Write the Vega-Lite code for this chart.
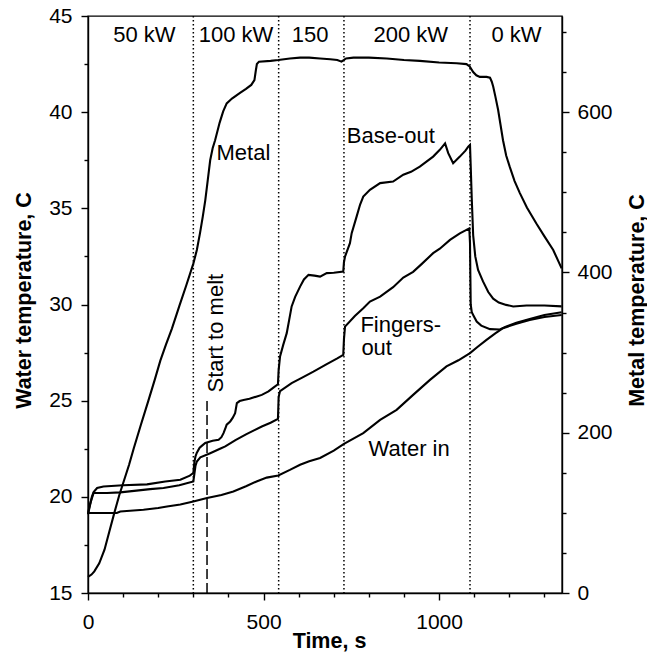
{
  "$schema": "https://vega.github.io/schema/vega-lite/v6.json",
  "width": 474,
  "height": 577,
  "autosize": {"type": "none"},
  "padding": {"left": 88, "top": 16, "right": 85, "bottom": 64},
  "background": "white",
  "config": {
    "font": "Liberation Sans",
    "view": {"stroke": "black", "strokeWidth": 1.4},
    "axis": {
      "grid": false,
      "domainColor": "black",
      "domainWidth": 1.4,
      "tickColor": "black",
      "tickWidth": 1.4,
      "labelColor": "black",
      "labelFont": "Liberation Sans",
      "labelFontSize": 21,
      "labelFlush": false,
      "labelOverlap": false,
      "titleFont": "Liberation Sans",
      "titleFontSize": 21.5,
      "titleFontWeight": "bold",
      "titleColor": "black"
    }
  },
  "datasets": {
    "water": [
      {"s": "Base-out", "t": 0, "w": 19.1}, {"s": "Base-out", "t": 5, "w": 19.5}, {"s": "Base-out", "t": 11, "w": 20.0}, {"s": "Base-out", "t": 16, "w": 20.25}, {"s": "Base-out", "t": 26, "w": 20.46}, {"s": "Base-out", "t": 44, "w": 20.54}, {"s": "Base-out", "t": 100, "w": 20.6}, {"s": "Base-out", "t": 168, "w": 20.65}, {"s": "Base-out", "t": 220, "w": 20.8}, {"s": "Base-out", "t": 263, "w": 20.89}, {"s": "Base-out", "t": 290, "w": 21.1}, {"s": "Base-out", "t": 300, "w": 21.24}, {"s": "Base-out", "t": 303, "w": 21.8}, {"s": "Base-out", "t": 306, "w": 22.1}, {"s": "Base-out", "t": 310, "w": 22.3}, {"s": "Base-out", "t": 318, "w": 22.55}, {"s": "Base-out", "t": 324, "w": 22.65}, {"s": "Base-out", "t": 334, "w": 22.8}, {"s": "Base-out", "t": 355, "w": 22.92}, {"s": "Base-out", "t": 372, "w": 22.97}, {"s": "Base-out", "t": 380, "w": 23.1}, {"s": "Base-out", "t": 386, "w": 23.31}, {"s": "Base-out", "t": 392, "w": 23.6}, {"s": "Base-out", "t": 395, "w": 23.75}, {"s": "Base-out", "t": 405, "w": 23.92}, {"s": "Base-out", "t": 412, "w": 24.1}, {"s": "Base-out", "t": 419, "w": 24.35}, {"s": "Base-out", "t": 424, "w": 24.87}, {"s": "Base-out", "t": 432, "w": 24.98}, {"s": "Base-out", "t": 443, "w": 25.04}, {"s": "Base-out", "t": 460, "w": 25.1}, {"s": "Base-out", "t": 481, "w": 25.22}, {"s": "Base-out", "t": 495, "w": 25.3}, {"s": "Base-out", "t": 514, "w": 25.48}, {"s": "Base-out", "t": 530, "w": 25.7}, {"s": "Base-out", "t": 541, "w": 25.85}, {"s": "Base-out", "t": 543, "w": 26.6}, {"s": "Base-out", "t": 547, "w": 27.3}, {"s": "Base-out", "t": 556, "w": 27.9}, {"s": "Base-out", "t": 566, "w": 28.51}, {"s": "Base-out", "t": 573, "w": 29.2}, {"s": "Base-out", "t": 580, "w": 29.9}, {"s": "Base-out", "t": 590, "w": 30.4}, {"s": "Base-out", "t": 604, "w": 30.93}, {"s": "Base-out", "t": 615, "w": 31.3}, {"s": "Base-out", "t": 628, "w": 31.54}, {"s": "Base-out", "t": 645, "w": 31.5}, {"s": "Base-out", "t": 661, "w": 31.45}, {"s": "Base-out", "t": 680, "w": 31.63}, {"s": "Base-out", "t": 700, "w": 31.65}, {"s": "Base-out", "t": 727, "w": 31.71}, {"s": "Base-out", "t": 729, "w": 32.2}, {"s": "Base-out", "t": 732, "w": 32.49}, {"s": "Base-out", "t": 746, "w": 33.19}, {"s": "Base-out", "t": 751, "w": 33.71}, {"s": "Base-out", "t": 765, "w": 34.57}, {"s": "Base-out", "t": 775, "w": 35.2}, {"s": "Base-out", "t": 784, "w": 35.61}, {"s": "Base-out", "t": 803, "w": 35.96}, {"s": "Base-out", "t": 832, "w": 36.31}, {"s": "Base-out", "t": 869, "w": 36.39}, {"s": "Base-out", "t": 898, "w": 36.75}, {"s": "Base-out", "t": 920, "w": 36.9}, {"s": "Base-out", "t": 945, "w": 37.17}, {"s": "Base-out", "t": 983, "w": 37.69}, {"s": "Base-out", "t": 1002, "w": 38.04}, {"s": "Base-out", "t": 1017, "w": 38.38}, {"s": "Base-out", "t": 1026, "w": 37.87}, {"s": "Base-out", "t": 1040, "w": 37.35}, {"s": "Base-out", "t": 1059, "w": 37.69}, {"s": "Base-out", "t": 1075, "w": 38.0}, {"s": "Base-out", "t": 1083, "w": 38.21}, {"s": "Base-out", "t": 1088, "w": 38.3}, {"s": "Base-out", "t": 1090, "w": 37.2}, {"s": "Base-out", "t": 1093, "w": 35.5}, {"s": "Base-out", "t": 1097, "w": 33.6}, {"s": "Base-out", "t": 1103, "w": 32.5}, {"s": "Base-out", "t": 1111, "w": 31.8}, {"s": "Base-out", "t": 1125, "w": 31.2}, {"s": "Base-out", "t": 1140, "w": 30.65}, {"s": "Base-out", "t": 1154, "w": 30.3}, {"s": "Base-out", "t": 1170, "w": 30.1}, {"s": "Base-out", "t": 1191, "w": 29.98}, {"s": "Base-out", "t": 1211, "w": 29.9}, {"s": "Base-out", "t": 1249, "w": 29.95}, {"s": "Base-out", "t": 1300, "w": 29.95}, {"s": "Base-out", "t": 1349, "w": 29.9},
      {"s": "Fingers-out", "t": 0, "w": 19.1}, {"s": "Fingers-out", "t": 4, "w": 19.5}, {"s": "Fingers-out", "t": 7, "w": 19.7}, {"s": "Fingers-out", "t": 16, "w": 20.2}, {"s": "Fingers-out", "t": 54, "w": 20.2}, {"s": "Fingers-out", "t": 92, "w": 20.23}, {"s": "Fingers-out", "t": 177, "w": 20.4}, {"s": "Fingers-out", "t": 215, "w": 20.46}, {"s": "Fingers-out", "t": 260, "w": 20.6}, {"s": "Fingers-out", "t": 300, "w": 20.8}, {"s": "Fingers-out", "t": 303, "w": 21.2}, {"s": "Fingers-out", "t": 306, "w": 21.6}, {"s": "Fingers-out", "t": 310, "w": 21.84}, {"s": "Fingers-out", "t": 320, "w": 22.05}, {"s": "Fingers-out", "t": 348, "w": 22.27}, {"s": "Fingers-out", "t": 376, "w": 22.5}, {"s": "Fingers-out", "t": 391, "w": 22.62}, {"s": "Fingers-out", "t": 420, "w": 22.95}, {"s": "Fingers-out", "t": 450, "w": 23.25}, {"s": "Fingers-out", "t": 495, "w": 23.66}, {"s": "Fingers-out", "t": 520, "w": 23.85}, {"s": "Fingers-out", "t": 541, "w": 24.05}, {"s": "Fingers-out", "t": 543, "w": 25.2}, {"s": "Fingers-out", "t": 547, "w": 25.5}, {"s": "Fingers-out", "t": 580, "w": 25.91}, {"s": "Fingers-out", "t": 610, "w": 26.2}, {"s": "Fingers-out", "t": 642, "w": 26.51}, {"s": "Fingers-out", "t": 680, "w": 26.9}, {"s": "Fingers-out", "t": 710, "w": 27.2}, {"s": "Fingers-out", "t": 727, "w": 27.38}, {"s": "Fingers-out", "t": 729, "w": 28.2}, {"s": "Fingers-out", "t": 732, "w": 28.85}, {"s": "Fingers-out", "t": 760, "w": 29.4}, {"s": "Fingers-out", "t": 784, "w": 29.8}, {"s": "Fingers-out", "t": 803, "w": 30.15}, {"s": "Fingers-out", "t": 832, "w": 30.41}, {"s": "Fingers-out", "t": 869, "w": 30.9}, {"s": "Fingers-out", "t": 898, "w": 31.4}, {"s": "Fingers-out", "t": 926, "w": 31.7}, {"s": "Fingers-out", "t": 950, "w": 32.1}, {"s": "Fingers-out", "t": 983, "w": 32.67}, {"s": "Fingers-out", "t": 1002, "w": 32.9}, {"s": "Fingers-out", "t": 1031, "w": 33.36}, {"s": "Fingers-out", "t": 1059, "w": 33.7}, {"s": "Fingers-out", "t": 1086, "w": 33.96}, {"s": "Fingers-out", "t": 1088, "w": 33.2}, {"s": "Fingers-out", "t": 1089, "w": 31.5}, {"s": "Fingers-out", "t": 1090, "w": 30.0}, {"s": "Fingers-out", "t": 1093, "w": 29.6}, {"s": "Fingers-out", "t": 1100, "w": 29.35}, {"s": "Fingers-out", "t": 1107, "w": 29.11}, {"s": "Fingers-out", "t": 1120, "w": 28.9}, {"s": "Fingers-out", "t": 1145, "w": 28.72}, {"s": "Fingers-out", "t": 1173, "w": 28.7}, {"s": "Fingers-out", "t": 1190, "w": 28.85}, {"s": "Fingers-out", "t": 1220, "w": 29.05}, {"s": "Fingers-out", "t": 1258, "w": 29.25}, {"s": "Fingers-out", "t": 1300, "w": 29.45}, {"s": "Fingers-out", "t": 1349, "w": 29.6},
      {"s": "Water in", "t": 0, "w": 19.16}, {"s": "Water in", "t": 82, "w": 19.16}, {"s": "Water in", "t": 92, "w": 19.24}, {"s": "Water in", "t": 120, "w": 19.28}, {"s": "Water in", "t": 158, "w": 19.33}, {"s": "Water in", "t": 200, "w": 19.42}, {"s": "Water in", "t": 225, "w": 19.5}, {"s": "Water in", "t": 263, "w": 19.6}, {"s": "Water in", "t": 300, "w": 19.76}, {"s": "Water in", "t": 339, "w": 19.94}, {"s": "Water in", "t": 380, "w": 20.1}, {"s": "Water in", "t": 414, "w": 20.28}, {"s": "Water in", "t": 450, "w": 20.55}, {"s": "Water in", "t": 480, "w": 20.8}, {"s": "Water in", "t": 509, "w": 21.0}, {"s": "Water in", "t": 542, "w": 21.11}, {"s": "Water in", "t": 575, "w": 21.4}, {"s": "Water in", "t": 604, "w": 21.67}, {"s": "Water in", "t": 630, "w": 21.85}, {"s": "Water in", "t": 661, "w": 22.02}, {"s": "Water in", "t": 700, "w": 22.4}, {"s": "Water in", "t": 729, "w": 22.75}, {"s": "Water in", "t": 784, "w": 23.31}, {"s": "Water in", "t": 832, "w": 24.0}, {"s": "Water in", "t": 879, "w": 24.52}, {"s": "Water in", "t": 926, "w": 25.3}, {"s": "Water in", "t": 974, "w": 26.08}, {"s": "Water in", "t": 1021, "w": 26.78}, {"s": "Water in", "t": 1055, "w": 27.1}, {"s": "Water in", "t": 1088, "w": 27.47}, {"s": "Water in", "t": 1110, "w": 27.8}, {"s": "Water in", "t": 1135, "w": 28.16}, {"s": "Water in", "t": 1160, "w": 28.5}, {"s": "Water in", "t": 1182, "w": 28.77}, {"s": "Water in", "t": 1220, "w": 29.0}, {"s": "Water in", "t": 1258, "w": 29.2}, {"s": "Water in", "t": 1300, "w": 29.35}, {"s": "Water in", "t": 1349, "w": 29.45}
    ],
    "metal": [
      {"t": 0, "m": 20}, {"t": 10, "m": 23}, {"t": 18, "m": 27}, {"t": 32, "m": 37}, {"t": 47, "m": 54}, {"t": 61, "m": 77}, {"t": 75, "m": 100}, {"t": 89, "m": 122}, {"t": 103, "m": 141}, {"t": 117, "m": 160}, {"t": 130, "m": 180}, {"t": 150, "m": 209}, {"t": 172, "m": 240}, {"t": 190, "m": 266}, {"t": 206, "m": 290}, {"t": 222, "m": 310}, {"t": 239, "m": 330}, {"t": 260, "m": 358}, {"t": 280, "m": 384}, {"t": 300, "m": 411}, {"t": 310, "m": 428}, {"t": 319, "m": 449}, {"t": 327, "m": 470}, {"t": 334, "m": 490}, {"t": 341, "m": 515}, {"t": 348, "m": 540}, {"t": 355, "m": 555}, {"t": 362, "m": 565}, {"t": 375, "m": 587}, {"t": 385, "m": 601}, {"t": 395, "m": 611}, {"t": 410, "m": 617}, {"t": 433, "m": 624}, {"t": 450, "m": 629}, {"t": 465, "m": 634}, {"t": 474, "m": 640}, {"t": 478, "m": 652}, {"t": 481, "m": 660}, {"t": 487, "m": 663}, {"t": 520, "m": 664}, {"t": 542, "m": 665}, {"t": 575, "m": 667}, {"t": 604, "m": 668}, {"t": 630, "m": 668}, {"t": 661, "m": 667}, {"t": 690, "m": 666}, {"t": 710, "m": 665}, {"t": 722, "m": 663}, {"t": 735, "m": 667}, {"t": 756, "m": 668}, {"t": 800, "m": 668}, {"t": 851, "m": 667}, {"t": 900, "m": 665}, {"t": 945, "m": 664}, {"t": 1000, "m": 662}, {"t": 1050, "m": 661}, {"t": 1078, "m": 660}, {"t": 1087, "m": 657}, {"t": 1097, "m": 650}, {"t": 1106, "m": 646}, {"t": 1116, "m": 644}, {"t": 1135, "m": 644}, {"t": 1145, "m": 643}, {"t": 1150, "m": 638}, {"t": 1154, "m": 632}, {"t": 1160, "m": 620}, {"t": 1168, "m": 603}, {"t": 1175, "m": 584}, {"t": 1182, "m": 565}, {"t": 1191, "m": 546}, {"t": 1201, "m": 532}, {"t": 1215, "m": 514}, {"t": 1230, "m": 499}, {"t": 1250, "m": 481}, {"t": 1277, "m": 461}, {"t": 1300, "m": 445}, {"t": 1325, "m": 428}, {"t": 1349, "m": 405}
    ],
    "vlines": [{"t": 300}, {"t": 543}, {"t": 729}, {"t": 1088}],
    "melt": [{"t": 339, "y1": 15, "y2": 25}],
    "wlabels": [
      {"t": 160.6, "w": 43.66, "label": "50 kW"},
      {"t": 421.5, "w": 43.66, "label": "100 kW"},
      {"t": 632.5, "w": 43.66, "label": "150"},
      {"t": 919.3, "w": 43.66, "label": "200 kW"},
      {"t": 1220.5, "w": 43.66, "label": "0 kW"},
      {"t": 862.3, "w": 38.42, "label": "Base-out"},
      {"t": 890.8, "w": 28.59, "label": "Fingers-"},
      {"t": 822.2, "w": 27.38, "label": "out"},
      {"t": 914.7, "w": 22.1, "label": "Water in"}
    ],
    "mlabels": [{"t": 442.7, "m": 540.4, "label": "Metal"}],
    "meltlabel": [{"t": 385.8, "w": 28.51, "label": "Start to melt"}]
  },
  "layer": [
    {
      "data": {"name": "water"},
      "mark": {"type": "line", "color": "black", "strokeWidth": 2.1},
      "encoding": {
        "x": {"field": "t", "type": "quantitative", "scale": {"domain": [0, 1350], "nice": false, "zero": false},
          "axis": {"orient": "bottom", "values": [0, 100, 200, 300, 400, 500, 600, 700, 800, 900, 1000, 1100, 1200, 1300], "format": "d",
            "labelExpr": "datum.value % 500 === 0 ? datum.label : ''",
            "tickSize": {"condition": {"test": "datum.value % 500 === 0", "value": 7}, "value": 4},
            "labelPadding": 11, "title": "Time, s", "titleX": 241, "titleY": 54, "titleBaseline": "alphabetic", "titleAlign": "center"}},
        "y": {"field": "w", "type": "quantitative", "scale": {"domain": [15, 45], "nice": false, "zero": false},
          "axis": {"orient": "left", "values": [15, 17.5, 20, 22.5, 25, 27.5, 30, 32.5, 35, 37.5, 40, 42.5, 45], "format": "d",
            "labelExpr": "datum.value % 5 === 0 ? datum.label : ''",
            "tickSize": {"condition": {"test": "datum.value % 5 === 0", "value": 7}, "value": 4},
            "labelPadding": 9, "title": "Water temperature, C", "titleAngle": 270, "titleX": -58, "titleY": 284, "titleBaseline": "alphabetic", "titleAlign": "center"}},
        "detail": {"field": "s"}
      }
    },
    {
      "data": {"name": "metal"},
      "mark": {"type": "line", "color": "black", "strokeWidth": 2.1},
      "encoding": {
        "x": {"field": "t", "type": "quantitative", "scale": {"domain": [0, 1350], "nice": false, "zero": false}, "axis": null},
        "y": {"field": "m", "type": "quantitative", "scale": {"domain": [0, 720], "nice": false, "zero": false},
          "axis": {"orient": "right", "values": [0, 50, 100, 150, 200, 250, 300, 350, 400, 450, 500, 550, 600, 650, 700], "format": "d",
            "labelExpr": "datum.value % 200 === 0 ? datum.label : ''",
            "tickSize": {"condition": {"test": "datum.value % 200 === 0", "value": 7}, "value": 4},
            "labelPadding": 8, "title": "Metal temperature, C", "titleAngle": 270, "titleX": 81, "titleY": 284, "titleBaseline": "alphabetic", "titleAlign": "center"}}
      }
    },
    {
      "data": {"name": "vlines"},
      "mark": {"type": "rule", "color": "black", "strokeWidth": 1.5, "strokeDash": [1.5, 2.5]},
      "encoding": {
        "x": {"field": "t", "type": "quantitative", "scale": {"domain": [0, 1350], "nice": false, "zero": false}, "axis": null}
      }
    },
    {
      "data": {"name": "melt"},
      "mark": {"type": "rule", "color": "black", "strokeWidth": 1.5, "strokeDash": [10, 4]},
      "encoding": {
        "x": {"field": "t", "type": "quantitative", "scale": {"domain": [0, 1350], "nice": false, "zero": false}, "axis": null},
        "y": {"field": "y1", "type": "quantitative", "scale": {"domain": [15, 45], "nice": false, "zero": false}, "axis": null},
        "y2": {"field": "y2"}
      }
    },
    {
      "data": {"name": "wlabels"},
      "mark": {"type": "text", "color": "black", "fontSize": 22, "font": "Liberation Sans", "align": "center", "baseline": "alphabetic"},
      "encoding": {
        "x": {"field": "t", "type": "quantitative", "scale": {"domain": [0, 1350], "nice": false, "zero": false}, "axis": null},
        "y": {"field": "w", "type": "quantitative", "scale": {"domain": [15, 45], "nice": false, "zero": false}, "axis": null},
        "text": {"field": "label"}
      }
    },
    {
      "data": {"name": "mlabels"},
      "mark": {"type": "text", "color": "black", "fontSize": 22, "font": "Liberation Sans", "align": "center", "baseline": "alphabetic"},
      "encoding": {
        "x": {"field": "t", "type": "quantitative", "scale": {"domain": [0, 1350], "nice": false, "zero": false}, "axis": null},
        "y": {"field": "m", "type": "quantitative", "scale": {"domain": [0, 720], "nice": false, "zero": false}, "axis": null},
        "text": {"field": "label"}
      }
    },
    {
      "data": {"name": "meltlabel"},
      "mark": {"type": "text", "color": "black", "fontSize": 22, "font": "Liberation Sans", "align": "center", "baseline": "alphabetic", "angle": 270},
      "encoding": {
        "x": {"field": "t", "type": "quantitative", "scale": {"domain": [0, 1350], "nice": false, "zero": false}, "axis": null},
        "y": {"field": "w", "type": "quantitative", "scale": {"domain": [15, 45], "nice": false, "zero": false}, "axis": null},
        "text": {"field": "label"}
      }
    }
  ],
  "resolve": {
    "scale": {"x": "independent", "y": "independent"},
    "axis": {"x": "independent", "y": "independent"}
  }
}
